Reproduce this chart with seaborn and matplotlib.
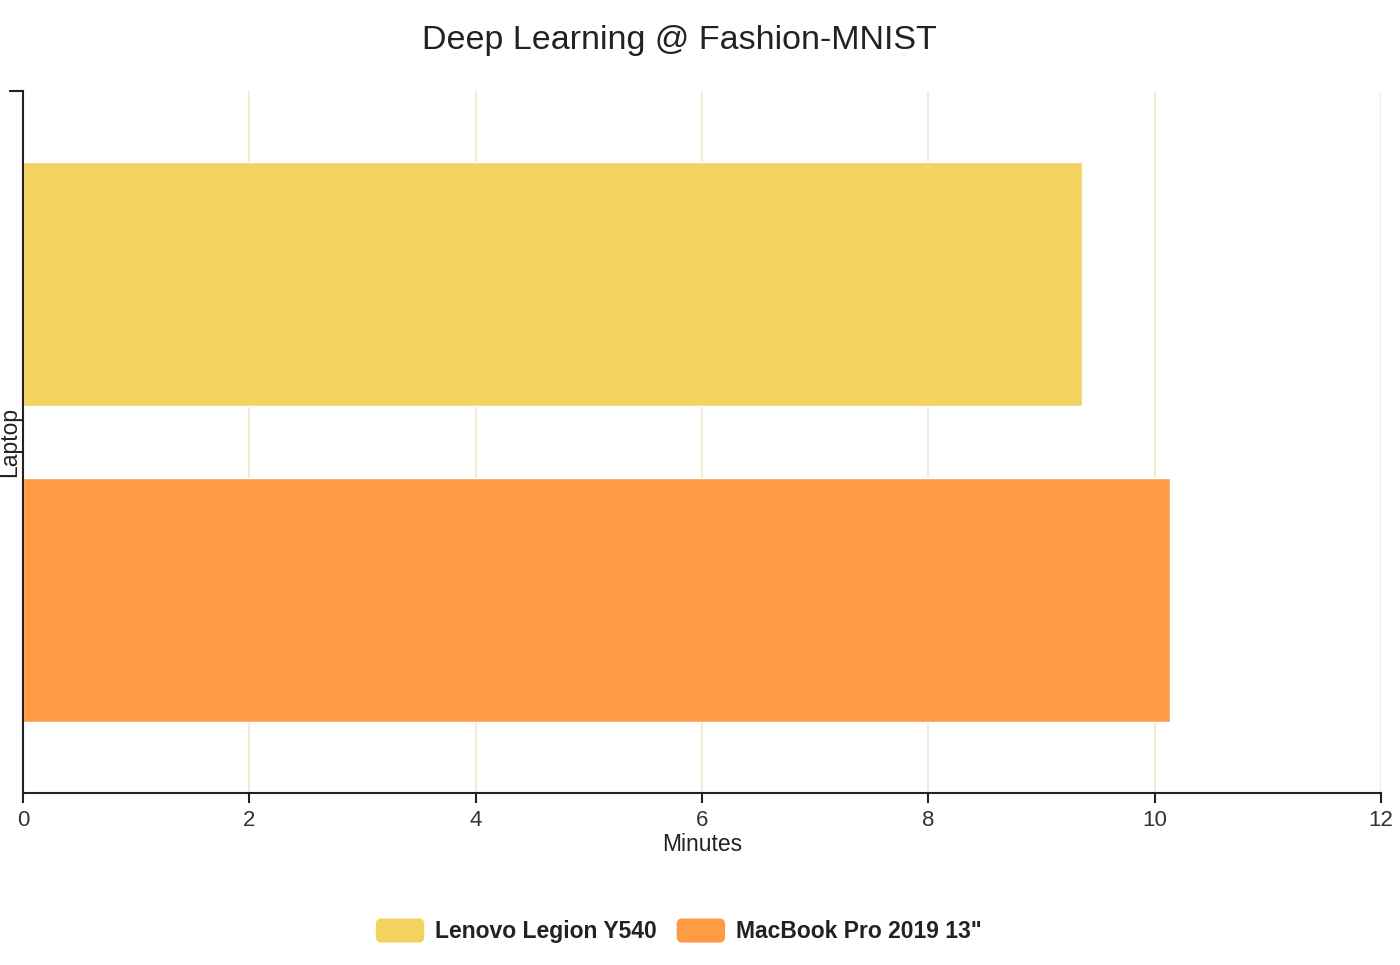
import matplotlib

matplotlib.use("Agg")

import matplotlib.pyplot as plt
import pandas as pd
import seaborn as sns
from matplotlib.legend_handler import HandlerPatch
from matplotlib.patches import FancyBboxPatch, Patch

# --- data ---
laptops = ["Lenovo Legion Y540", 'MacBook Pro 2019 13"']
minutes = [9.36, 10.14]
group = ["", ""]
x_ticks = [0, 2, 4, 6, 8, 10, 12]

colors = ["#F3D360", "#FE9B43"]

df = pd.DataFrame({"Laptop": laptops, "Minutes": minutes, "group": group})


class RoundedHandler(HandlerPatch):
    # draws the legend swatch as a rounded box
    def create_artists(self, legend, orig_handle, xdescent, ydescent, width, height, fontsize, trans):
        p = FancyBboxPatch(
            (-xdescent, -ydescent),
            width,
            height,
            boxstyle="round,pad=0,rounding_size=%f" % (height * 0.22),
            facecolor=orig_handle.get_facecolor(),
            edgecolor=orig_handle.get_facecolor(),
            transform=trans,
        )
        return [p]


sns.set_style("white")
plt.rcParams["font.family"] = ["Liberation Sans", "DejaVu Sans"]

fig = plt.figure(figsize=(14, 9.65), dpi=100)
ax = fig.add_axes([0.0164, 0.1782, 0.97, 0.7275])

sns.barplot(
    data=df,
    x="Minutes",
    y="group",
    hue="Laptop",
    palette=colors,
    orient="h",
    width=0.9,
    gap=0.225,
    saturation=1,
    legend=False,
    ax=ax,
)

ax.set_xlim(0, 12)
ax.set_ylim(0.5, -0.5)
ax.set_xticks(x_ticks)
ax.set_xticklabels([str(t) for t in x_ticks], fontsize=16, color="#333333")
ax.set_yticks([-0.5])
ax.set_yticklabels([""])
ax.tick_params(axis="y", left=True, length=10, width=1.5, color="#222222")
ax.tick_params(axis="x", bottom=True, length=7, width=1.5, color="#222222", pad=5)

ax.grid(axis="x", color="#EFEDD6", linewidth=1.5, zorder=0)
ax.set_axisbelow(True)
for side in ["top", "right"]:
    ax.spines[side].set_visible(False)
for side in ["left", "bottom"]:
    ax.spines[side].set_color("#222222")
    ax.spines[side].set_linewidth(1.5)

ax.set_xlabel("Minutes", fontsize=16.5, color="#222222", labelpad=2)
ax.set_ylabel("Laptop", fontsize=16.5, color="#222222")
ax.yaxis.set_label_coords(-0.0012, 0.5)

fig.suptitle("Deep Learning @ Fashion-MNIST", fontsize=24.5, color="#222222", x=0.485, y=0.974)

# legend at the bottom with rounded swatches
handles = [Patch(facecolor=c, edgecolor=c) for c in colors]
leg = fig.legend(
    handles,
    laptops,
    loc="center",
    bbox_to_anchor=(0.485, 0.035),
    ncol=2,
    frameon=False,
    handlelength=2.05,
    handleheight=1.15,
    handletextpad=0.5,
    columnspacing=0.9,
    handler_map={Patch: RoundedHandler()},
    prop={"size": 16.5, "weight": "bold"},
)
for t in leg.get_texts():
    t.set_color("#222222")

fig.savefig("out.png", dpi=100)
